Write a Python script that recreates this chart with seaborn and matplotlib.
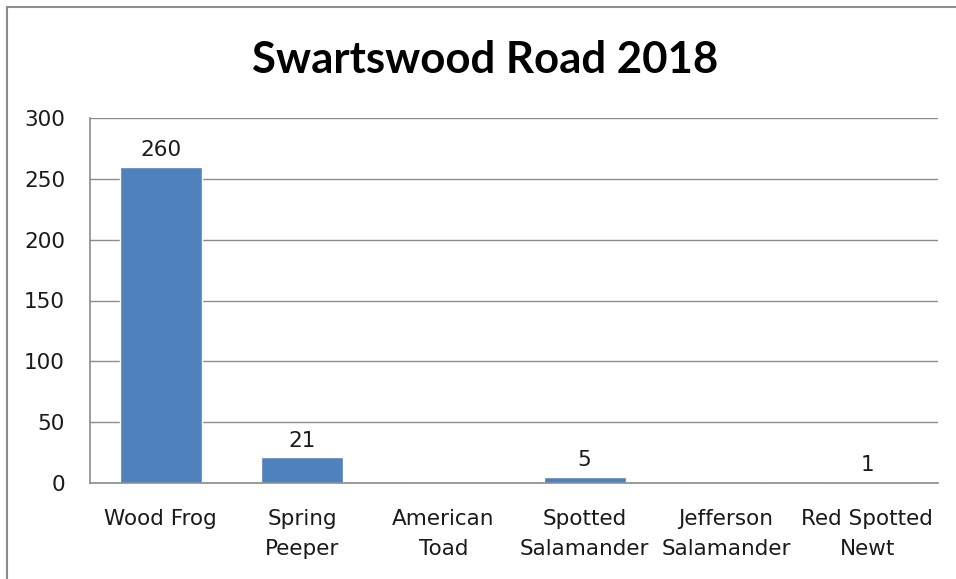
import matplotlib
matplotlib.use("Agg")
import matplotlib.pyplot as plt
from matplotlib.lines import Line2D
import seaborn as sns
import pandas as pd

sns.set_style("white")
plt.rcParams['font.family'] = ['DejaVu Sans']

# data
species = ["Wood Frog", "Spring\nPeeper", "American\nToad", "Spotted\nSalamander",
           "Jefferson\nSalamander", "Red Spotted\nNewt"]
counts = [260, 21, 0, 5, 0, 1]
yticks = [0, 50, 100, 150, 200, 250, 300]

df = pd.DataFrame({"Species": species, "Count": counts})

fig = plt.figure(figsize=(9.56, 5.79), dpi=100)
ax = fig.add_axes([90 / 956, 1 - 483 / 579, 848 / 956, 365 / 579])

sns.barplot(data=df, x="Species", y="Count", color="#4F81BD", saturation=1,
            width=0.58, ax=ax)

ax.set_ylim(0, 300)
ax.set_yticks(yticks)
ax.yaxis.grid(True, color="#8c8c8c", linewidth=1)
ax.set_axisbelow(True)
ax.set_xlabel("")
ax.set_ylabel("")
ax.tick_params(axis="both", length=0, labelsize=15.5, colors="#1a1a1a")
ax.tick_params(axis="y", pad=18)
ax.tick_params(axis="x", pad=19)
for lab in ax.get_xticklabels():
    lab.set_linespacing(1.6)

for s in ["top", "right"]:
    ax.spines[s].set_visible(False)
for s in ["left", "bottom"]:
    ax.spines[s].set_color("#8c8c8c")
    ax.spines[s].set_linewidth(1.2)

# labels on bars that are not zero
for bar, v in zip(ax.patches, counts):
    if v > 0:
        ax.annotate(str(v), (bar.get_x() + bar.get_width() / 2, v),
                    xytext=(0, 5), textcoords="offset points",
                    ha="center", va="bottom", fontsize=15.5, color="#1a1a1a")

fig.text(0.507, 0.897, "Swartswood Road 2018", ha="center", va="center",
         fontsize=31.5, fontweight="bold", color="black",
         family=["Lato", "DejaVu Sans"])

# chart border (top and left only)
fig.add_artist(Line2D([7 / 956, 1], [1 - 7 / 579, 1 - 7 / 579],
                      transform=fig.transFigure, color="#8c8c8c", linewidth=1.5))
fig.add_artist(Line2D([7 / 956, 7 / 956], [0, 1 - 7 / 579],
                      transform=fig.transFigure, color="#8c8c8c", linewidth=1.5))

plt.savefig("out.png", dpi=100)
